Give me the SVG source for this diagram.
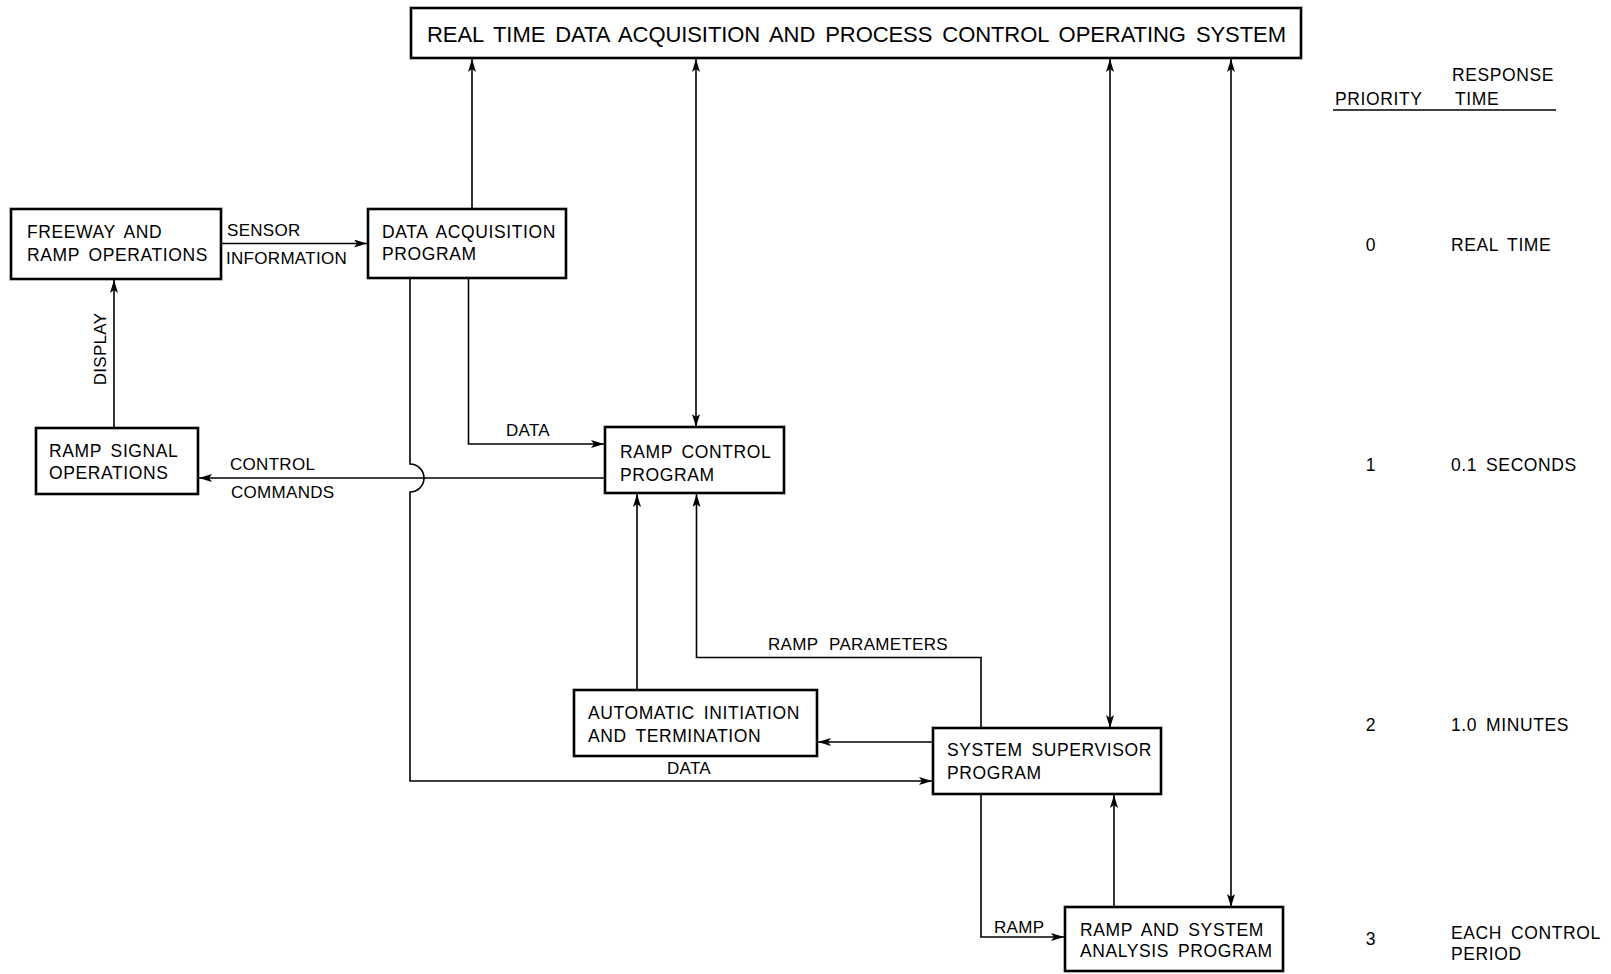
<svg xmlns="http://www.w3.org/2000/svg" width="1611" height="974" viewBox="0 0 1611 974">
<style>
.box{fill:#fff;stroke:#000;stroke-width:2.6}
.t{font-family:"Liberation Sans",Arial,sans-serif;font-size:17.5px;fill:#000;word-spacing:3.5px;letter-spacing:0.6px}
.title{font-family:"Liberation Sans",Arial,sans-serif;font-size:22px;fill:#000;word-spacing:4px}
.lbl{font-family:"Liberation Sans",Arial,sans-serif;font-size:17px;fill:#000;letter-spacing:0.3px}
.c{fill:none;stroke:#000;stroke-width:1.6}
.a{marker-end:url(#ah)}
.d{marker-start:url(#ah);marker-end:url(#ah)}
</style>
<defs>
<marker id="ah" markerUnits="userSpaceOnUse" markerWidth="14" markerHeight="10" refX="13" refY="4" orient="auto-start-reverse">
<path d="M0,0 L13,4 L0,8 L3,4 z" fill="#000"/>
</marker>
</defs>
<rect width="1611" height="974" fill="#fff"/>

<g id="connectors">
<path class="c a" d="M472,209 V59"/>
<path class="c d" d="M696,59 V427"/>
<path class="c d" d="M1110,59 V728"/>
<path class="c d" d="M1231,59 V907"/>
<path class="c a" d="M221,243.5 H367"/>
<path class="c a" d="M114,428 V280"/>
<path class="c a" d="M605,478 H199"/>
<path class="c a" d="M468.5,278 V444 H604"/>
<path class="c a" d="M410,278 V464 A14,14 0 0 1 410,492 V781 H932"/>
<path class="c a" d="M637,690 V494"/>
<path class="c a" d="M981,728 V657.5 H696.5 V494"/>
<path class="c a" d="M933,742 H818"/>
<path class="c a" d="M981,794 V937 H1064"/>
<path class="c a" d="M1114,907 V795"/>
<text class="lbl" x="227" y="236">SENSOR</text>
<text class="lbl" x="226" y="264">INFORMATION</text>
<text class="lbl" transform="translate(106,349) rotate(-90)" text-anchor="middle">DISPLAY</text>
<text class="lbl" x="528" y="436" text-anchor="middle">DATA</text>
<text class="lbl" x="230" y="470">CONTROL</text>
<text class="lbl" x="231" y="498">COMMANDS</text>
<text class="lbl" x="858" y="650" text-anchor="middle" word-spacing="6">RAMP PARAMETERS</text>
<text class="lbl" x="689" y="774" text-anchor="middle">DATA</text>
<text class="lbl" x="994" y="933">RAMP</text>
</g>

<g id="node-os">
<rect class="box" x="411" y="8" width="890" height="50"/>
<text class="title" x="427" y="42" textLength="859" lengthAdjust="spacing">REAL TIME DATA ACQUISITION AND PROCESS CONTROL OPERATING SYSTEM</text>
</g>

<g id="node-freeway">
<rect class="box" x="11" y="209" width="210" height="70"/>
<text class="t" x="27" y="238">FREEWAY AND</text>
<text class="t" x="27" y="261">RAMP OPERATIONS</text>
</g>

<g id="node-data-acq">
<rect class="box" x="368" y="209" width="198" height="69"/>
<text class="t" x="382" y="238">DATA ACQUISITION</text>
<text class="t" x="382" y="260">PROGRAM</text>
</g>

<g id="node-ramp-signal">
<rect class="box" x="36" y="428" width="162" height="66"/>
<text class="t" x="49" y="457">RAMP SIGNAL</text>
<text class="t" x="49" y="479">OPERATIONS</text>
</g>

<g id="node-ramp-control">
<rect class="box" x="605" y="427" width="179" height="66"/>
<text class="t" x="620" y="458">RAMP CONTROL</text>
<text class="t" x="620" y="481">PROGRAM</text>
</g>

<g id="node-auto">
<rect class="box" x="574" y="690" width="243" height="66"/>
<text class="t" x="588" y="719">AUTOMATIC INITIATION</text>
<text class="t" x="588" y="742">AND TERMINATION</text>
</g>

<g id="node-supervisor">
<rect class="box" x="933" y="728" width="228" height="66"/>
<text class="t" x="947" y="756">SYSTEM SUPERVISOR</text>
<text class="t" x="947" y="779">PROGRAM</text>
</g>

<g id="node-analysis">
<rect class="box" x="1065" y="907" width="218" height="64"/>
<text class="t" x="1080" y="936">RAMP AND SYSTEM</text>
<text class="t" x="1080" y="957">ANALYSIS PROGRAM</text>
</g>

<g id="priority-table">
<text class="t" x="1452" y="81">RESPONSE</text>
<text class="t" x="1335" y="105">PRIORITY</text>
<text class="t" x="1455" y="105">TIME</text>
<line x1="1333" y1="110" x2="1556" y2="110" stroke="#000" stroke-width="1.6"/>
<text class="t" x="1371" y="251" text-anchor="middle">0</text>
<text class="t" x="1451" y="251">REAL TIME</text>
<text class="t" x="1371" y="471" text-anchor="middle">1</text>
<text class="t" x="1451" y="471">0.1 SECONDS</text>
<text class="t" x="1371" y="731" text-anchor="middle">2</text>
<text class="t" x="1451" y="731">1.0 MINUTES</text>
<text class="t" x="1371" y="945" text-anchor="middle">3</text>
<text class="t" x="1451" y="939">EACH CONTROL</text>
<text class="t" x="1451" y="960">PERIOD</text>
</g>
</svg>
